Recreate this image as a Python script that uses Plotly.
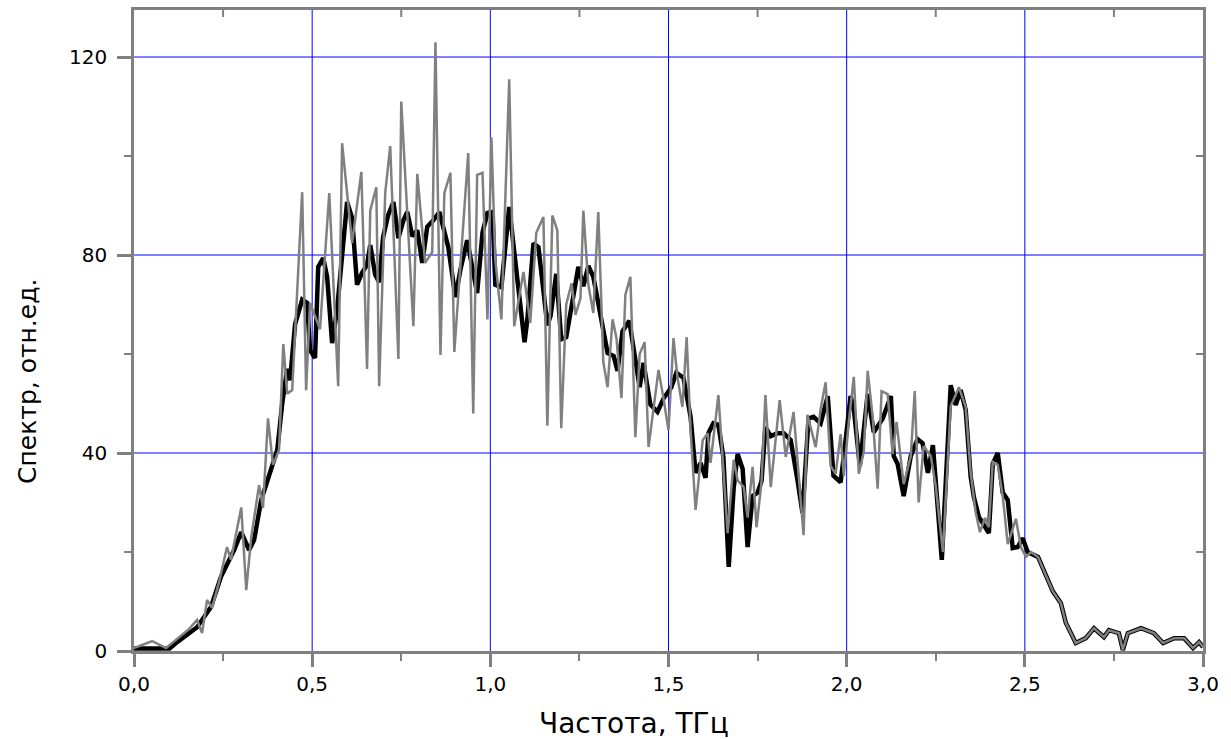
import plotly.graph_objects as go

# ---- data ----
# raw (grey) spectrum
raw_freq = [0.000, 0.051, 0.090, 0.121, 0.154, 0.177, 0.191, 0.205, 0.219, 0.239,
            0.261, 0.272, 0.301, 0.315, 0.329, 0.351, 0.362, 0.376, 0.390, 0.407,
            0.419, 0.430, 0.444, 0.472, 0.483, 0.494, 0.522, 0.548, 0.573, 0.584,
            0.612, 0.638, 0.654, 0.663, 0.680, 0.688, 0.705, 0.719, 0.742, 0.750,
            0.784, 0.795, 0.817, 0.837, 0.846, 0.860, 0.871, 0.888, 0.899, 0.938,
            0.952, 0.963, 0.978, 0.992, 1.003, 1.014, 1.031, 1.053, 1.067, 1.093,
            1.112, 1.129, 1.149, 1.160, 1.174, 1.188, 1.199, 1.213, 1.228, 1.239,
            1.253, 1.261, 1.275, 1.289, 1.303, 1.317, 1.329, 1.343, 1.354, 1.368,
            1.379, 1.393, 1.407, 1.419, 1.433, 1.444, 1.472, 1.486, 1.500, 1.514,
            1.525, 1.539, 1.551, 1.562, 1.576, 1.596, 1.610, 1.618, 1.640, 1.666,
            1.683, 1.694, 1.711, 1.722, 1.736, 1.747, 1.761, 1.772, 1.787, 1.812,
            1.829, 1.851, 1.879, 1.890, 1.913, 1.927, 1.941, 1.955, 1.969, 1.983,
            1.992, 2.006, 2.020, 2.034, 2.048, 2.059, 2.073, 2.087, 2.098, 2.115,
            2.129, 2.140, 2.160, 2.180, 2.191, 2.202, 2.216, 2.236, 2.250, 2.270,
            2.292, 2.315, 2.334, 2.348, 2.362, 2.374, 2.388, 2.399, 2.410, 2.424,
            2.438, 2.452, 2.475, 2.489, 2.503, 2.517, 2.537, 2.565, 2.579, 2.601,
            2.615, 2.643, 2.671, 2.694, 2.722, 2.736, 2.764, 2.775, 2.789, 2.826,
            2.862, 2.888, 2.919, 2.947, 2.972, 2.989, 3.000]
raw_spec = [0.6, 2.0, 0.6, 2.4, 4.4, 6.3, 3.6, 10.3, 8.7, 14.0,
            21.0, 18.4, 29.0, 12.3, 23.0, 33.5, 28.9, 47.0, 37.6, 40.6,
            62.0, 52.0, 52.7, 92.7, 52.7, 70.3, 65.0, 92.5, 53.5, 102.6,
            82.4, 96.8, 57.0, 89.0, 93.7, 53.5, 92.5, 102.0, 59.0, 111.0,
            65.6, 96.4, 78.4, 80.6, 123.0, 59.8, 92.5, 96.6, 60.4, 100.6,
            48.0, 96.2, 96.6, 67.0, 103.8, 79.0, 67.0, 115.5, 65.6, 76.6,
            66.3, 84.5, 87.7, 45.5, 88.0, 85.0, 45.0, 70.0, 74.3, 67.9,
            71.3, 89.0, 74.0, 68.3, 88.7, 58.4, 53.3, 67.0, 63.2, 51.1,
            72.0, 75.6, 43.2, 60.0, 62.4, 41.2, 56.8, 51.0, 44.6, 63.2,
            55.4, 49.3, 63.4, 44.6, 28.5, 42.6, 44.0, 38.0, 51.7, 23.8,
            38.6, 34.5, 33.1, 27.0, 37.2, 25.0, 34.0, 51.7, 33.1, 50.7,
            39.2, 48.3, 23.4, 47.7, 41.2, 48.9, 54.3, 37.4, 35.8, 43.8,
            35.4, 46.3, 55.4, 35.8, 40.2, 56.6, 47.3, 32.8, 52.5, 51.9,
            39.8, 46.3, 33.7, 39.4, 52.5, 30.0, 41.4, 39.4, 33.3, 20.0,
            49.5, 53.3, 49.3, 36.0, 28.0, 24.0, 26.9, 25.0, 38.2, 37.6,
            31.3, 21.6, 26.7, 21.0, 19.0, 20.0, 19.0, 14.3, 12.0, 9.7,
            5.7, 1.6, 2.6, 4.6, 2.8, 4.2, 3.6, 0.2, 3.6, 4.6,
            3.6, 1.6, 2.6, 2.6, 0.6, 1.8, 0.8]

# smoothed (black) spectrum
smooth_freq = [0.000, 0.050, 0.100, 0.121, 0.177, 0.216, 0.244, 0.281, 0.301, 0.323,
               0.337, 0.357, 0.379, 0.402, 0.416, 0.430, 0.438, 0.452, 0.472, 0.486,
               0.494, 0.508, 0.517, 0.531, 0.542, 0.556, 0.570, 0.584, 0.598, 0.612,
               0.626, 0.640, 0.654, 0.663, 0.677, 0.688, 0.699, 0.713, 0.728, 0.742,
               0.756, 0.767, 0.781, 0.795, 0.809, 0.823, 0.840, 0.857, 0.868, 0.882,
               0.902, 0.916, 0.935, 0.963, 0.978, 0.992, 1.006, 1.014, 1.031, 1.053,
               1.076, 1.096, 1.104, 1.121, 1.135, 1.160, 1.169, 1.185, 1.199, 1.213,
               1.230, 1.247, 1.261, 1.275, 1.289, 1.309, 1.329, 1.346, 1.357, 1.371,
               1.390, 1.404, 1.419, 1.430, 1.449, 1.469, 1.486, 1.508, 1.522, 1.542,
               1.562, 1.576, 1.590, 1.604, 1.612, 1.626, 1.640, 1.654, 1.669, 1.683,
               1.694, 1.708, 1.722, 1.736, 1.750, 1.761, 1.772, 1.787, 1.806, 1.823,
               1.843, 1.862, 1.876, 1.893, 1.907, 1.927, 1.947, 1.963, 1.983, 1.992,
               2.011, 2.020, 2.037, 2.059, 2.076, 2.101, 2.124, 2.132, 2.143, 2.160,
               2.180, 2.199, 2.213, 2.228, 2.242, 2.267, 2.292, 2.306, 2.320, 2.334,
               2.348, 2.357, 2.371, 2.399, 2.410, 2.424, 2.438, 2.452, 2.466, 2.480,
               2.494, 2.508, 2.537, 2.565, 2.579, 2.601, 2.615, 2.643, 2.671, 2.694,
               2.722, 2.736, 2.764, 2.775, 2.789, 2.826, 2.862, 2.888, 2.919, 2.947,
               2.972, 2.989, 3.000]
smooth_spec = [0.5, 0.6, 0.5, 1.8, 4.8, 8.9, 15.0, 20.4, 24.0, 20.4,
               22.4, 30.5, 35.6, 40.6, 50.0, 57.0, 54.7, 66.0, 71.0, 70.3,
               60.8, 59.2, 77.6, 79.4, 75.6, 62.2, 69.0, 81.0, 90.7, 87.5,
               74.0, 76.4, 78.0, 82.0, 76.0, 74.5, 83.6, 88.0, 90.7, 83.4,
               87.0, 88.7, 83.8, 85.0, 78.4, 85.7, 87.0, 88.7, 85.7, 81.6,
               71.5, 77.0, 83.0, 72.3, 84.5, 88.5, 88.7, 74.0, 73.5, 89.7,
               75.0, 62.4, 67.0, 82.4, 81.6, 65.8, 67.7, 76.2, 63.0, 63.4,
               70.5, 77.6, 73.7, 77.8, 75.6, 67.7, 60.2, 59.6, 56.6, 64.6,
               66.7, 60.2, 53.3, 58.2, 49.8, 48.3, 51.0, 53.3, 56.2, 55.2,
               47.3, 36.0, 38.0, 35.0, 44.0, 46.0, 45.7, 39.2, 17.0, 33.0,
               39.8, 36.8, 21.0, 31.3, 32.0, 34.3, 45.2, 43.4, 44.0, 44.0,
               42.6, 34.5, 27.9, 47.0, 47.3, 46.0, 51.5, 35.4, 34.1, 39.4,
               51.5, 48.9, 37.4, 51.9, 44.2, 46.9, 51.5, 39.4, 37.8, 31.3,
               39.4, 42.8, 42.0, 36.0, 41.6, 18.4, 53.7, 49.7, 52.7, 48.7,
               35.2, 31.1, 27.1, 23.8, 37.8, 40.0, 32.0, 30.5, 20.8, 21.0,
               22.8, 20.0, 19.0, 14.3, 12.0, 9.7, 5.7, 1.6, 2.6, 4.6,
               2.8, 4.2, 3.6, 0.2, 3.6, 4.6, 3.6, 1.6, 2.6, 2.6,
               0.6, 1.8, 0.8]

x_tick_vals = [0.0, 0.5, 1.0, 1.5, 2.0, 2.5, 3.0]
x_tick_text = ["0,0", "0,5", "1,0", "1,5", "2,0", "2,5", "3,0"]
x_minor_vals = [0.25, 0.75, 1.25, 1.75, 2.25, 2.75]
y_tick_vals = [0, 40, 80, 120]
y_tick_text = ["0", "40", "80", "120"]
y_minor_vals = [20, 60, 100]

x_title = "Частота, ТГц"
y_title = "Спектр, отн.ед."

AXIS_GREY = "#808080"
GRID_BLUE = "#0000FF"
FONT = "DejaVu Sans"
YMAX = 129.5
PLOT_W, PLOT_H = 1069, 641  # plot-area size in px (for tick lengths in paper units)

fig = go.Figure()
fig.add_trace(go.Scatter(x=smooth_freq, y=smooth_spec, mode="lines",
                         line=dict(color="#000000", width=4.5), showlegend=False,
                         hoverinfo="skip"))
fig.add_trace(go.Scatter(x=raw_freq, y=raw_spec, mode="lines",
                         line=dict(color="#808080", width=2.5), showlegend=False,
                         hoverinfo="skip"))

shapes = []
# blue grid at the major ticks (inner ones)
for xv in x_tick_vals[1:-1]:
    shapes.append(dict(type="line", xref="x", yref="paper", x0=xv, x1=xv, y0=0, y1=1,
                       layer="below", line=dict(color=GRID_BLUE, width=1)))
for yv in y_tick_vals[1:]:
    shapes.append(dict(type="line", xref="paper", yref="y", x0=0, x1=1, y0=yv, y1=yv,
                       layer="below", line=dict(color=GRID_BLUE, width=1)))
# inward minor ticks on the top and right frame
for xv in x_minor_vals:
    shapes.append(dict(type="line", xref="x", yref="paper", x0=xv, x1=xv,
                       y0=1, y1=1 - 7 / PLOT_H, layer="above",
                       line=dict(color=AXIS_GREY, width=2)))
for yv in y_minor_vals:
    shapes.append(dict(type="line", xref="paper", yref="y", x0=1, x1=1 - 7 / PLOT_W,
                       y0=yv, y1=yv, layer="above",
                       line=dict(color=AXIS_GREY, width=2)))

fig.update_layout(
    template="none",
    width=1231, height=739,
    margin=dict(l=134, r=28, t=10, b=88),
    paper_bgcolor="white", plot_bgcolor="white",
    showlegend=False,
    font=dict(family=FONT, size=20, color="black"),
    xaxis=dict(
        range=[0, 3], tickvals=x_tick_vals, ticktext=x_tick_text,
        ticks="outside", ticklen=13, tickwidth=2.5, tickcolor=AXIS_GREY,
        showline=True, linecolor=AXIS_GREY, linewidth=2.5, mirror=True,
        showgrid=False, zeroline=False,
        tickfont=dict(family=FONT, size=20, color="black"),
        minor=dict(tickvals=x_minor_vals, ticks="outside", ticklen=7,
                   tickwidth=2, tickcolor=AXIS_GREY, showgrid=False),
    ),
    yaxis=dict(
        range=[0, YMAX], tickvals=y_tick_vals, ticktext=y_tick_text,
        ticks="outside", ticklen=14, tickwidth=2.5, tickcolor=AXIS_GREY,
        showline=True, linecolor=AXIS_GREY, linewidth=2.5, mirror=True,
        showgrid=False, zeroline=False,
        tickfont=dict(family=FONT, size=20, color="black"),
        ticklabelstandoff=6,
        minor=dict(tickvals=y_minor_vals, ticks="outside", ticklen=7,
                   tickwidth=2, tickcolor=AXIS_GREY, showgrid=False),
    ),
    shapes=shapes,
    annotations=[
        dict(text=x_title, xref="paper", yref="paper", x=0.468, y=-0.113,
             xanchor="center", yanchor="middle", showarrow=False,
             font=dict(family=FONT, size=28, color="black")),
        dict(text=y_title, xref="paper", yref="paper", x=-0.099, y=0.42,
             xanchor="center", yanchor="middle", textangle=-90, showarrow=False,
             font=dict(family=FONT, size=25, color="black")),
    ],
)

fig.write_html("out.html")
